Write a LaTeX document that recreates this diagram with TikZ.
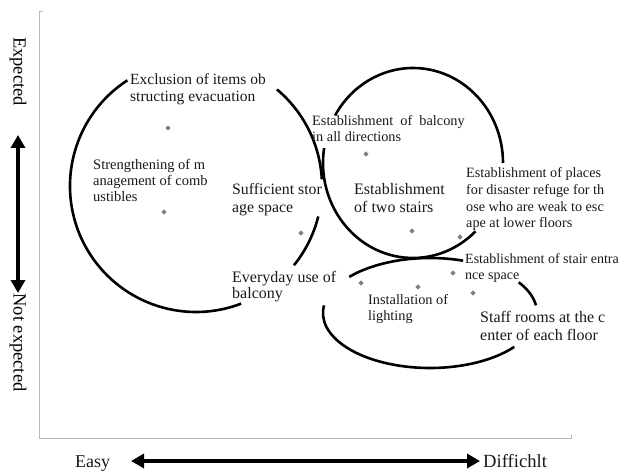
\documentclass[tikz,border=0pt]{standalone}
\usepackage{fontspec}
\setmainfont{Liberation Serif}
\usetikzlibrary{arrows.meta,shapes.geometric}
\tikzset{
  lbl/.style={anchor=base west, align=left, inner sep=0pt, text=black!90},
  dot/.style={diamond, fill=black!50, inner sep=0pt, minimum size=5.5pt},
  ring/.style={line width=2.6pt, black},
  axisline/.style={black!28, line width=1pt},
  bigarrow/.style={line width=3.6pt, {Triangle[length=13pt,width=14pt]}-{Triangle[length=13pt,width=14pt]}},
}
\newcommand{\fs}[2]{\fontsize{#1}{#2}\selectfont}
\begin{document}
\begin{tikzpicture}[x=1pt,y=1pt]
\useasboundingbox (0,0) rectangle (621,472);
% axes frame
\draw[axisline] (43,460) -- (39.5,460) -- (39.5,34) -- (571,34) -- (571,37);
% circle 1 (left)
\draw[ring] (196,286) ++(3:126 and 126) arc[start angle=3, end angle=50, radius=126];
\draw[ring] (196,286) ++(-39:126 and 126) arc[start angle=-39, end angle=-14, radius=126];
\draw[ring] (196,286) ++(123:126 and 126) arc[start angle=123, end angle=291, radius=126];
% circle 2 (upper right)
\draw[ring] (413,309) ++(0:90 and 95) arc[start angle=0, end angle=150, x radius=90, y radius=95];
\draw[ring] (413,309) ++(171:90 and 95) arc[start angle=171, end angle=314, x radius=90, y radius=95];
% ellipse 3 (lower right)
\draw[ring] (430,159) ++(72:107 and 55) arc[start angle=72, end angle=139, x radius=107, y radius=55];
\draw[ring] (430,159) ++(8:107 and 55) arc[start angle=8, end angle=34, x radius=107, y radius=55];
\draw[ring] (430,159) ++(172:107 and 55) arc[start angle=172, end angle=322, x radius=107, y radius=55];
% markers
\node[dot] (d1) at (168,344) {};
\node[dot] (d2) at (164,260) {};
\node[dot] (d3) at (301,239) {};
\node[dot] (d4) at (366,318) {};
\node[dot] (d5) at (412,241) {};
\node[dot] (d6) at (460,235) {};
\node[dot] (d7) at (453,199) {};
\node[dot] (d8) at (361,189) {};
\node[dot] (d9) at (418,185) {};
\node[dot] (d10) at (473,179) {};
% labels (anchor = baseline of the last line)
\node[lbl, font=\fs{15.5}{17}] (excl) at (130,370) {Exclusion of items ob\\structing evacuation};
\node[lbl, font=\fs{14.5}{16}] (streng) at (93,270) {Strengthening of m\\anagement of comb\\ustibles};
\node[lbl, font=\fs{15.8}{18}] (suff) at (232,259) {Sufficient stor\\age space};
\node[lbl, font=\fs{14.3}{16}] (balc) at (312,330) {Establishment~ of~ balcony\\in all directions};
\node[lbl, font=\fs{16}{18}] (two) at (354,259) {Establishment\\of two stairs};
\node[lbl, font=\fs{14.2}{16.7}] (places) at (466,244) {Establishment of places\\for disaster refuge for th\\ose who are weak to esc\\ape at lower floors};
\node[lbl, font=\fs{14}{16}] (stair) at (465,193) {Establishment of stair entra\\nce space};
\node[lbl, font=\fs{16}{16.5}] (every) at (232,173.5) {Everyday use of\\balcony};
\node[lbl, font=\fs{14.3}{16}] (install) at (368,152) {Installation of\\lighting};
\node[lbl, font=\fs{16}{18}] (staff) at (480,132) {Staff rooms at the c\\enter of each floor};
% axis labels
\node[rotate=-90, inner sep=0pt, font=\fs{18.5}{20}] (expd) at (18,400.5) {Expected};
\node[rotate=-90, inner sep=0pt, font=\fs{18.5}{20}] (notexp) at (18,129.5) {Not expected};
\node[lbl, font=\fs{18}{20}] (easy) at (75,5) {Easy};
\node[lbl, font=\fs{18.6}{20}] (diff) at (483,5) {Diffichlt};
% arrows
\coordinate (vtop) at (18,337);
\coordinate (vbot) at (18,179);
\coordinate (hleft) at (131,11);
\coordinate (hright) at (480,11);
\draw[bigarrow] (vtop) -- (vbot);
\draw[bigarrow] (hleft) -- (hright);
\end{tikzpicture}
\end{document}
